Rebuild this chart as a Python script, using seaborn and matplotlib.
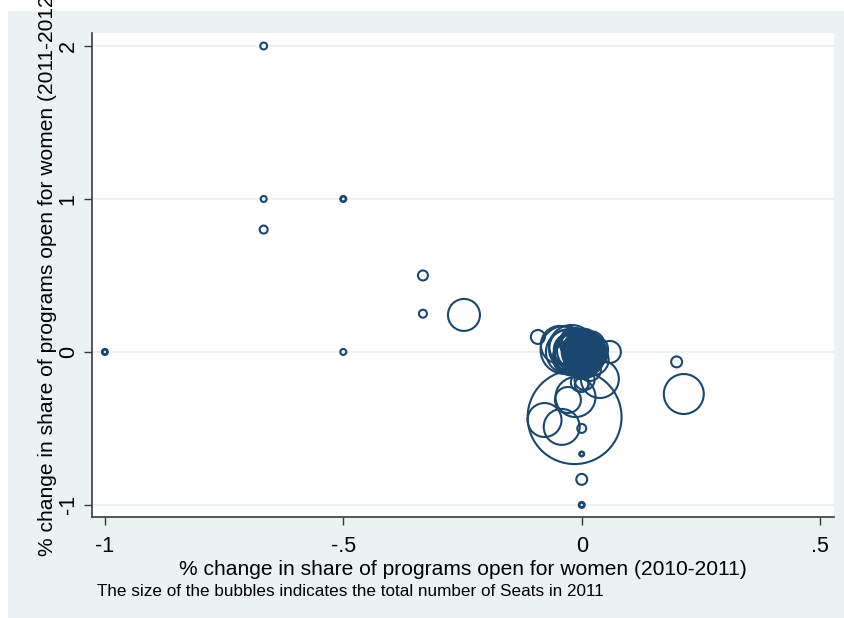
import matplotlib
matplotlib.use("Agg")
import matplotlib.pyplot as plt
from matplotlib.patches import Rectangle
import seaborn as sns
import pandas as pd

# ---- data ----
x_change = [
    -1.0, -1.0, -0.667, -0.667, -0.667, -0.5, -0.5, -0.5, -0.333, -0.333, -0.247,
    0.199, 0.214, 0.0, 0.0, 0.0, 0.0, 0.0, 0.0,
    -0.092, 0.059, 0.038, -0.013, -0.029, -0.015, -0.078, -0.042, 0.0, -0.004, 0.006,
    -0.036, -0.029, -0.021, -0.015, -0.046, -0.025, -0.008, 0.0, 0.006, 0.008,
    0.013, 0.004, -0.004, 0.017, 0.002, 0.010, 0.021, -0.006, 0.006, 0.013,
    0.002, 0.017, 0.025, 0.008, -0.004, 0.017,
    0.010, 0.004, -0.002, 0.015, 0.000, 0.019, 0.008, -0.010, 0.012, 0.006,
    -0.030, -0.020, -0.010, 0.000, 0.015, 0.025, 0.020, -0.015, 0.005, -0.025,
    0.030, 0.010, -0.005, 0.022, -0.018, 0.000, 0.015, 0.028, -0.008, 0.003,
    -0.012, 0.018, 0.005, -0.002,
    0.006, 0.006, 0.006, 0.006, 0.006, 0.006, 0.006, 0.006, 0.006, 0.006,
    0.012, 0.012, 0.012, 0.012, 0.012, 0.012, 0.012, 0.012, 0.012,
    0.000, 0.000, 0.000, 0.000, 0.000, 0.000, 0.000, 0.000,
    0.010, 0.010, 0.010, 0.010,
    -0.004, -0.004, -0.004, -0.004,
]
y_change = [
    0.0, 0.0, 2.0, 1.0, 0.8, 1.0, 1.0, 0.0, 0.5, 0.25, 0.242,
    -0.065, -0.275, -0.5, -0.667, -0.667, -0.833, -1.0, -1.0,
    0.098, 0.0, -0.177, -0.295, -0.314, -0.426, -0.445, -0.49, -0.216, -0.2, -0.183,
    0.013, 0.0, 0.026, -0.02, 0.046, -0.039, 0.013, 0.0, -0.02, 0.013,
    -0.007, -0.033, 0.046, -0.039, -0.052, 0.026, 0.0, -0.026, -0.072, 0.039,
    0.0, -0.02, -0.052, -0.085, -0.118, -0.118,
    -0.010, 0.004, -0.013, 0.010, 0.020, -0.026, -0.046, -0.005, 0.0, 0.010,
    0.030, -0.030, 0.040, -0.040, 0.030, -0.010, 0.050, 0.060, 0.060, 0.015,
    0.020, -0.060, -0.070, -0.060, 0.005, 0.030, -0.020, -0.035, -0.045, 0.080,
    0.025, 0.018, -0.015, 0.012,
    -0.013, -0.013, -0.013, -0.013, -0.013, -0.013, -0.013, -0.013, -0.013, -0.013,
    -0.005, -0.005, -0.005, -0.005, -0.005, -0.005, -0.005, -0.005, -0.005,
    -0.025, -0.025, -0.025, -0.025, -0.025, -0.025, -0.025, -0.025,
    -0.030, -0.030, -0.030, -0.030,
    0.000, 0.000, 0.000, 0.000,
]
seats = [
    90, 50, 120, 90, 160, 90, 60, 90, 250, 160, 2560,
    300, 4000, 200, 60, 40, 300, 90, 50,
    490, 1210, 3610, 4000, 1690, 22090, 2890, 3240, 490, 810, 1000,
    5760, 4840, 5290, 4410, 3610, 2890, 4410, 4000, 3610, 3240,
    2560, 2250, 1960, 1690, 1440, 1210, 1000, 810, 640, 490,
    250, 160, 2250, 1690, 810, 1210,
    2890, 2560, 1960, 1440, 1000, 810, 1000, 1440, 360, 640,
    3240, 2890, 2560, 3240, 2250, 1960, 1690, 2250, 1960, 2560,
    1440, 2250, 1690, 1210, 3610, 2890, 2250, 1000, 1960, 1000,
    1440, 1000, 810, 640,
    40, 160, 360, 640, 1000, 1440, 1960, 2560, 3240, 4000,
    90, 250, 490, 810, 1210, 1690, 2250, 2890, 3610,
    90, 250, 490, 810, 1210, 1690, 2250, 2890,
    160, 640, 1440, 2560,
    160, 640, 1440, 2560,
]
x_ticks = [-1, -0.5, 0, 0.5]
x_tick_labels = ["-1", "-.5", "0", ".5"]
y_ticks = [-1, 0, 1, 2]
y_tick_labels = ["-1", "0", "1", "2"]

x_title = "% change in share of programs open for women (2010-2011)"
y_title = "% change in share of programs open for women (2011-2012)"
note = "The size of the bubbles indicates the total number of Seats in 2011"

df = pd.DataFrame({"x": x_change, "y": y_change, "seats": seats})

# ---- styling ----
sns.set_style("white")
plt.rcParams["font.family"] = ["Liberation Sans", "DejaVu Sans"]

BG = "#EAF2F3"
NAVY = "#1A476F"
AXC = "#3a3a3a"

W, H = 845, 618
fig = plt.figure(figsize=(W / 100, H / 100), dpi=100, facecolor="white")
fig.patches.append(Rectangle((8 / W, 0), 1 - 8 / W, (H - 11) / H,
                             transform=fig.transFigure, facecolor=BG,
                             edgecolor="none", zorder=-10))

ax = fig.add_axes([92 / W, 1 - 517 / H, (834 - 92) / W, (517 - 33) / H])
ax.set_facecolor("white")

smax = max(seats)
sns.scatterplot(data=df, x="x", y="y", size="seats",
                sizes=(0, 0.207 * smax), size_norm=(0, smax),
                legend=False, ax=ax, color=NAVY, linewidth=1.5, zorder=3)
for c in ax.collections:
    c.set_facecolor("none")
    c.set_edgecolor(NAVY)
    c.set_linewidth(1.5)

ax.set_xlim(-1.027, 0.529)
ax.set_ylim(-1.079, 2.085)

ax.set_xticks(x_ticks)
ax.set_xticklabels(x_tick_labels)
ax.set_yticks(y_ticks)
ax.set_yticklabels(y_tick_labels, rotation=90, va="center")

for y in y_ticks:
    ax.axhline(y, color=BG, lw=1.6, zorder=1)

for s in ["top", "right"]:
    ax.spines[s].set_visible(False)
for s in ["left", "bottom"]:
    ax.spines[s].set_color(AXC)
    ax.spines[s].set_linewidth(1.2)

ax.tick_params(axis="both", direction="out", length=5.5, width=1.0,
               color=AXC, labelsize=15.5, labelcolor="black",
               left=True, bottom=True)
ax.tick_params(axis="x", pad=8)
ax.tick_params(axis="y", pad=4)

ax.set_xlabel(x_title, fontsize=15.1, labelpad=2, color="black")
ax.set_ylabel(y_title, fontsize=15.1, color="black")
ax.yaxis.set_label_coords(-0.047, 0.505)

fig.text(97 / W, 1 - 592 / H, note, fontsize=12.3, va="center", ha="left",
         color="black")

fig.savefig("out.png", dpi=100, facecolor="white")
